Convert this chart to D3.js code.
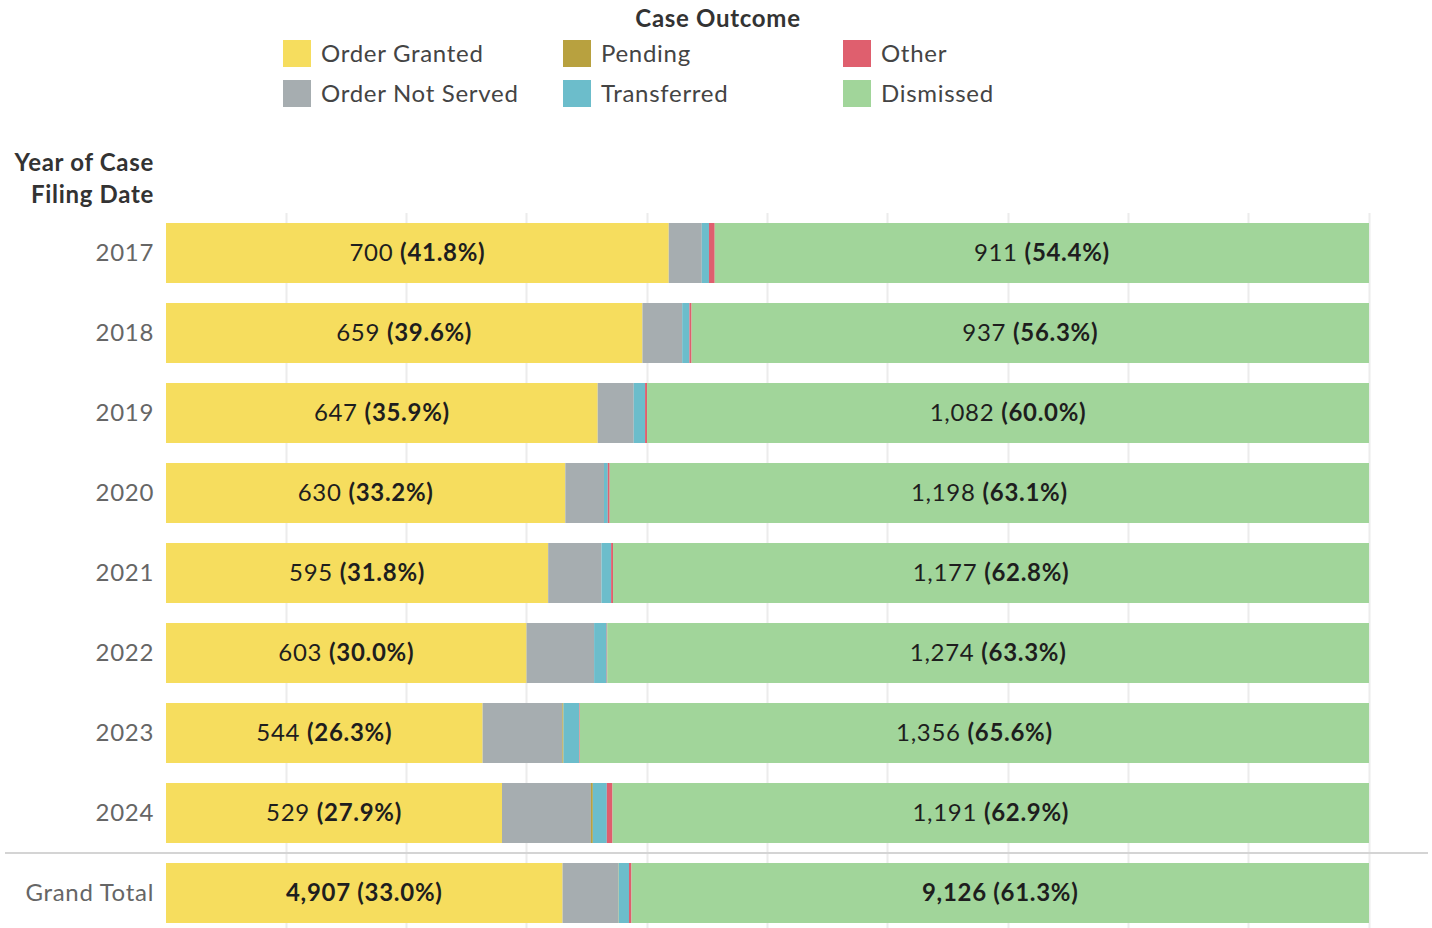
<!DOCTYPE html>
<html>
<head>
<meta charset="utf-8">
<script src="https://cdn.jsdelivr.net/npm/d3@7"></script>
<style>
  body { margin: 0; background: #fff; }
  text { font-family: Lato, "Noto Sans", sans-serif; letter-spacing: 0.7px; }
</style>
</head>
<body>
<div id="chart"></div>
<script>
// data (case counts per outcome)
var years = ["2017", "2018", "2019", "2020", "2021", "2022", "2023", "2024"];
var outcomes = ["Order Granted", "Order Not Served", "Pending", "Transferred", "Other", "Dismissed"];
var orderGranted   = [700, 659, 647, 630, 595, 603, 544, 529];
var orderNotServed = [46, 55, 54, 61, 83, 113, 137, 140];
var pending        = [0, 0, 0, 0, 0, 0, 2, 3];
var transferred    = [10, 10, 17, 6, 15, 21, 27, 22];
var other          = [8, 3, 3, 3, 3, 1, 1, 9];
var dismissed      = [911, 937, 1082, 1198, 1177, 1274, 1356, 1191];
var colors = ["#f6dd5e", "#a6adb0", "#b8a13f", "#6cbdcb", "#df5f6e", "#a1d59a"];

var width = 1432, height = 928;

var svg = d3.select("#chart").append("svg")
    .attr("width", width)
    .attr("height", height);

// build rows, grand total is the sum of the years
var series = [orderGranted, orderNotServed, pending, transferred, other, dismissed];
var rows = years.map(function(yr, i) {
    var r = {label: yr, total: false};
    outcomes.forEach(function(o, k) { r[o] = series[k][i]; });
    return r;
});
var gt = {label: "Grand Total", total: true};
outcomes.forEach(function(o, k) { gt[o] = d3.sum(series[k]); });
rows.push(gt);

var x = d3.scaleLinear().domain([0, 1]).range([166, 1369]);
var y = d3.scaleBand()
    .domain(rows.map(function(d) { return d.label; }))
    .range([213, 933])
    .paddingInner(0.25)
    .paddingOuter(0.125);

// gridlines
svg.append("g")
    .selectAll("line")
    .data(d3.range(1, 11).map(function(v) { return v / 10; }))
    .enter().append("line")
    .attr("x1", function(d) { return Math.floor(x(d)) + 0.5; })
    .attr("x2", function(d) { return Math.floor(x(d)) + 0.5; })
    .attr("y1", 213)
    .attr("y2", height)
    .attr("stroke", "#ececec")
    .attr("stroke-width", 2);

// separator above grand total
svg.append("line")
    .attr("x1", 5).attr("x2", 1428)
    .attr("y1", 853).attr("y2", 853)
    .attr("stroke", "#d4d4d4")
    .attr("stroke-width", 2);

var stack = d3.stack().keys(outcomes).offset(d3.stackOffsetExpand);
var stacked = stack(rows);

var layer = svg.append("g").selectAll("g")
    .data(stacked)
    .enter().append("g")
    .attr("fill", function(d, i) { return colors[i]; });

layer.selectAll("rect")
    .data(function(d) { return d; })
    .enter().append("rect")
    .attr("x", function(d) { return x(d[0]); })
    .attr("width", function(d) { return Math.max(0, x(d[1]) - x(d[0])); })
    .attr("y", function(d) { return y(d.data.label); })
    .attr("height", y.bandwidth());

// labels on granted and dismissed
var fmt = d3.format(",");
[0, 5].forEach(function(k) {
    svg.append("g").selectAll("text")
        .data(stacked[k])
        .enter().append("text")
        .attr("x", function(d) { return (x(d[0]) + x(d[1])) / 2; })
        .attr("y", function(d) { return y(d.data.label) + y.bandwidth() / 2; })
        .attr("dy", "0.35em")
        .attr("text-anchor", "middle")
        .style("font-size", "24px")
        .style("fill", "#1e1e1e")
        .each(function(d) {
            var n = d.data[outcomes[k]];
            var t = d3.select(this);
            t.append("tspan")
                .style("font-weight", d.data.total ? "bold" : "normal")
                .text(fmt(n) + " ");
            t.append("tspan")
                .style("font-weight", "bold")
                .text("(" + (100 * (d[1] - d[0])).toFixed(1) + "%)");
        });
});

// row labels
svg.append("g").selectAll("text")
    .data(rows)
    .enter().append("text")
    .attr("x", 154)
    .attr("y", function(d) { return y(d.label) + y.bandwidth() / 2; })
    .attr("dy", "0.35em")
    .attr("text-anchor", "end")
    .style("font-size", "24px")
    .style("fill", "#666")
    .text(function(d) { return d.label; });

// axis title
svg.append("text")
    .attr("x", 154).attr("y", 171)
    .attr("text-anchor", "end")
    .style("font-size", "24px")
    .style("font-weight", "bold")
    .style("fill", "#333")
    .text("Year of Case");
svg.append("text")
    .attr("x", 154).attr("y", 203)
    .attr("text-anchor", "end")
    .style("font-size", "24px")
    .style("font-weight", "bold")
    .style("fill", "#333")
    .text("Filing Date");

// legend
svg.append("text")
    .attr("x", 718).attr("y", 27)
    .attr("text-anchor", "middle")
    .style("font-size", "24px")
    .style("font-weight", "bold")
    .style("fill", "#333")
    .text("Case Outcome");

var legendOrder = ["Order Granted", "Order Not Served", "Pending", "Transferred", "Other", "Dismissed"];
var lg = svg.append("g").selectAll("g")
    .data(legendOrder)
    .enter().append("g")
    .attr("transform", function(d, i) {
        return "translate(" + (283 + Math.floor(i / 2) * 280) + "," + (40 + (i % 2) * 40) + ")";
    });
lg.append("rect")
    .attr("width", 28)
    .attr("height", 27)
    .attr("fill", function(d) { return colors[outcomes.indexOf(d)]; });
lg.append("text")
    .attr("x", 38)
    .attr("y", 14)
    .attr("dy", "0.35em")
    .style("font-size", "24px")
    .style("fill", "#444")
    .text(function(d) { return d; });
</script>
</body>
</html>
